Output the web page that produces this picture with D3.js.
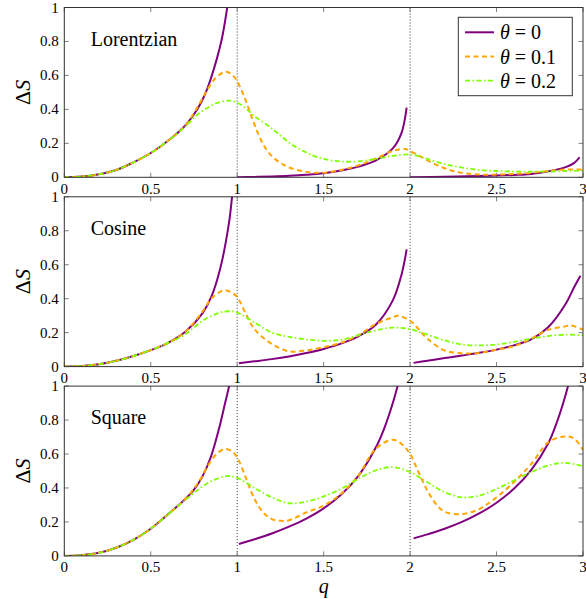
<!DOCTYPE html>
<html lang="en">
<head>
<meta charset="UTF-8">
<script src="https://cdn.jsdelivr.net/npm/d3@7"></script>
<title>Delta S vs q</title>
<style>
  * { margin: 0; padding: 0; }
  body { background: #fff; }
</style>
</head>
<body>
<svg id="chart" width="586" height="599"></svg>
<script>
// ---- data ----
var xTicks = [0, 0.5, 1, 1.5, 2, 2.5, 3];
var yTicks = [0, 0.2, 0.4, 0.6, 0.8, 1];
var panelNames = ['Lorentzian', 'Cosine', 'Square'];
var thetaLabels = ['0', '0.1', '0.2'];
var dividers = [1, 2];

// theta = 0 is split in three branches
var lorentzTheta0 = [
  [[0,0],[0.1,0.004],[0.2,0.018],[0.3,0.043],[0.4,0.088],[0.5,0.143],[0.6,0.215],[0.7,0.305],[0.78,0.42],[0.83,0.53],[0.88,0.69],[0.91,0.81],[0.93,0.92],[0.945,1.02],[0.955,1.1]],
  [[1.0,0],[1.1,0.002],[1.2,0.005],[1.3,0.009],[1.4,0.015],[1.5,0.024],[1.6,0.04],[1.7,0.063],[1.8,0.098],[1.9,0.17],[1.95,0.26],[1.98,0.41]],
  [[2.0,0],[2.2,0.003],[2.4,0.007],[2.5,0.01],[2.6,0.014],[2.7,0.02],[2.8,0.035],[2.9,0.06],[2.95,0.085],[2.98,0.118]]
];
var lorentzTheta01 = [[0,0],[0.1,0.004],[0.2,0.018],[0.3,0.043],[0.4,0.088],[0.5,0.143],[0.6,0.215],[0.7,0.305],[0.78,0.43],[0.83,0.52],[0.88,0.59],[0.935,0.622],[0.97,0.605],[1.0,0.565],[1.05,0.45],[1.1,0.31],[1.15,0.195],[1.2,0.125],[1.25,0.085],[1.3,0.058],[1.4,0.032],[1.5,0.027],[1.6,0.043],[1.7,0.07],[1.8,0.11],[1.9,0.155],[1.97,0.167],[2.0,0.155],[2.1,0.1],[2.2,0.053],[2.3,0.026],[2.4,0.016],[2.5,0.016],[2.6,0.02],[2.7,0.026],[2.8,0.037],[2.9,0.046],[3.0,0.045]];
var lorentzTheta02 = [[0,0],[0.1,0.004],[0.2,0.018],[0.3,0.043],[0.4,0.088],[0.5,0.143],[0.6,0.215],[0.69,0.29],[0.73,0.33],[0.78,0.377],[0.83,0.41],[0.88,0.436],[0.95,0.451],[1.0,0.44],[1.05,0.405],[1.1,0.36],[1.2,0.288],[1.3,0.205],[1.4,0.145],[1.5,0.108],[1.6,0.093],[1.7,0.094],[1.8,0.108],[1.9,0.126],[2.0,0.135],[2.05,0.125],[2.1,0.108],[2.2,0.078],[2.3,0.057],[2.4,0.043],[2.5,0.037],[2.6,0.034],[2.7,0.033],[2.8,0.034],[2.9,0.037],[3.0,0.04]];

var cosineTheta0 = [
  [[0,0],[0.1,0.003],[0.2,0.014],[0.3,0.034],[0.4,0.062],[0.5,0.097],[0.6,0.14],[0.7,0.205],[0.8,0.315],[0.85,0.41],[0.9,0.57],[0.95,0.83],[0.97,1.0],[0.98,1.15]],
  [[1.01,0.02],[1.1,0.031],[1.2,0.044],[1.3,0.06],[1.4,0.08],[1.5,0.104],[1.6,0.135],[1.7,0.178],[1.8,0.245],[1.9,0.39],[1.95,0.54],[1.98,0.69]],
  [[2.02,0.022],[2.1,0.035],[2.2,0.05],[2.3,0.065],[2.4,0.081],[2.5,0.1],[2.6,0.125],[2.7,0.16],[2.8,0.233],[2.9,0.37],[2.95,0.47],[2.985,0.535]]
];
var cosineTheta01 = [[0,0],[0.1,0.003],[0.2,0.014],[0.3,0.034],[0.4,0.062],[0.5,0.097],[0.6,0.14],[0.7,0.205],[0.8,0.325],[0.85,0.4],[0.9,0.44],[0.93,0.45],[0.97,0.435],[1.0,0.41],[1.05,0.31],[1.1,0.22],[1.2,0.134],[1.3,0.09],[1.4,0.095],[1.5,0.115],[1.6,0.14],[1.7,0.184],[1.8,0.25],[1.9,0.29],[1.93,0.3],[2.0,0.27],[2.05,0.22],[2.1,0.164],[2.2,0.095],[2.3,0.079],[2.4,0.08],[2.5,0.1],[2.6,0.12],[2.7,0.164],[2.8,0.217],[2.9,0.237],[2.93,0.243],[3.0,0.217]];
var cosineTheta02 = [[0,0],[0.1,0.003],[0.2,0.014],[0.3,0.034],[0.4,0.062],[0.5,0.097],[0.6,0.14],[0.7,0.19],[0.8,0.27],[0.9,0.318],[0.95,0.326],[1.0,0.318],[1.1,0.26],[1.2,0.2],[1.3,0.175],[1.4,0.16],[1.5,0.152],[1.6,0.158],[1.7,0.185],[1.8,0.213],[1.9,0.23],[2.0,0.22],[2.1,0.188],[2.2,0.154],[2.3,0.13],[2.4,0.125],[2.5,0.13],[2.6,0.146],[2.7,0.164],[2.8,0.18],[2.9,0.188],[3.0,0.184]];

var squareTheta0 = [
  [[0,0],[0.1,0.004],[0.2,0.018],[0.3,0.048],[0.4,0.095],[0.5,0.16],[0.6,0.245],[0.7,0.335],[0.75,0.39],[0.8,0.47],[0.85,0.59],[0.9,0.77],[0.93,0.9],[0.953,1.0],[0.97,1.1]],
  [[1.01,0.07],[1.1,0.098],[1.2,0.132],[1.3,0.172],[1.4,0.22],[1.5,0.28],[1.6,0.36],[1.7,0.47],[1.8,0.635],[1.85,0.75],[1.9,0.9],[1.94,1.05]],
  [[2.02,0.103],[2.1,0.127],[2.2,0.16],[2.3,0.2],[2.4,0.25],[2.5,0.313],[2.6,0.395],[2.7,0.505],[2.8,0.665],[2.85,0.79],[2.9,0.95],[2.93,1.07]]
];
var squareTheta01 = [[0,0],[0.1,0.004],[0.2,0.018],[0.3,0.048],[0.4,0.095],[0.5,0.16],[0.6,0.245],[0.7,0.335],[0.78,0.44],[0.83,0.53],[0.88,0.6],[0.93,0.63],[0.97,0.615],[1.0,0.58],[1.05,0.46],[1.1,0.335],[1.15,0.256],[1.2,0.217],[1.25,0.207],[1.3,0.21],[1.4,0.256],[1.5,0.296],[1.6,0.365],[1.7,0.473],[1.8,0.63],[1.9,0.684],[1.95,0.66],[2.0,0.6],[2.05,0.49],[2.1,0.385],[2.15,0.305],[2.2,0.26],[2.3,0.246],[2.4,0.276],[2.5,0.345],[2.6,0.434],[2.7,0.54],[2.8,0.67],[2.9,0.704],[2.95,0.69],[3.0,0.625]];
var squareTheta02 = [[0,0],[0.1,0.004],[0.2,0.018],[0.3,0.048],[0.4,0.095],[0.5,0.16],[0.6,0.245],[0.69,0.32],[0.78,0.395],[0.85,0.44],[0.94,0.47],[1.0,0.46],[1.1,0.4],[1.2,0.345],[1.3,0.31],[1.4,0.32],[1.5,0.35],[1.6,0.394],[1.7,0.454],[1.8,0.503],[1.9,0.523],[2.0,0.493],[2.1,0.434],[2.2,0.375],[2.3,0.345],[2.4,0.355],[2.5,0.394],[2.6,0.444],[2.7,0.493],[2.8,0.533],[2.9,0.548],[3.0,0.527]];

var panels = [
  { name: panelNames[0], t0: lorentzTheta0, t1: lorentzTheta01, t2: lorentzTheta02 },
  { name: panelNames[1], t0: cosineTheta0, t1: cosineTheta01, t2: cosineTheta02 },
  { name: panelNames[2], t0: squareTheta0, t1: squareTheta01, t2: squareTheta02 }
];

var styles = [
  { color: '#800080', width: 2, dash: null },
  { color: '#ffa500', width: 2, dash: '5,3.5' },
  { color: '#80ff00', width: 1.8, dash: '5,2.5,1.5,2.5' }
];

// ---- layout ----
var serif = "'Liberation Serif', 'DejaVu Serif', 'Times New Roman', serif";
var left = 64.3, right = 583;
var top0 = 7.5, panelH = 169.8, panelStep = 189.3;
var tickLen = 4.5;

var svg = d3.select('#chart').attr('font-family', serif);
var x = d3.scaleLinear().domain([0, 3]).range([left, right]);

var line = d3.line()
  .x(function (d) { return x(d[0]); })
  .curve(d3.curveCatmullRom.alpha(0.5));

panels.forEach(function (p, i) {
  var top = top0 + i * panelStep;
  var bottom = top + panelH;
  var y = d3.scaleLinear().domain([0, 1]).range([bottom, top]);
  line.y(function (d) { return y(d[1]); });

  var g = svg.append('g');

  svg.append('clipPath').attr('id', 'clip' + i)
    .append('rect')
    .attr('x', left).attr('y', top)
    .attr('width', right - left).attr('height', panelH);

  // dotted dividers
  g.selectAll('.div').data(dividers).enter().append('line')
    .attr('x1', function (d) { return x(d); })
    .attr('x2', function (d) { return x(d); })
    .attr('y1', top).attr('y2', bottom)
    .attr('stroke', '#000').attr('stroke-width', 0.8)
    .attr('stroke-dasharray', '1,2');

  // ticks (inside, all four sides)
  var tg = g.append('g').attr('stroke', '#808080').attr('stroke-width', 1);
  xTicks.forEach(function (t) {
    tg.append('line').attr('x1', x(t)).attr('x2', x(t)).attr('y1', bottom).attr('y2', bottom - tickLen);
    tg.append('line').attr('x1', x(t)).attr('x2', x(t)).attr('y1', top).attr('y2', top + tickLen);
  });
  yTicks.forEach(function (t) {
    tg.append('line').attr('x1', left).attr('x2', left + tickLen).attr('y1', y(t)).attr('y2', y(t));
    tg.append('line').attr('x1', right).attr('x2', right - tickLen).attr('y1', y(t)).attr('y2', y(t));
  });

  // curves
  var cg = g.append('g').attr('clip-path', 'url(#clip' + i + ')');
  p.t0.forEach(function (seg) {
    cg.append('path').datum(seg)
      .attr('d', line)
      .attr('fill', 'none')
      .attr('stroke', styles[0].color)
      .attr('stroke-width', styles[0].width);
  });
  [p.t1, p.t2].forEach(function (ser, k) {
    var s = styles[k + 1];
    cg.append('path').datum(ser)
      .attr('d', line)
      .attr('fill', 'none')
      .attr('stroke', s.color)
      .attr('stroke-width', s.width)
      .attr('stroke-dasharray', s.dash);
  });

  // frame
  g.append('rect')
    .attr('x', left).attr('y', top)
    .attr('width', right - left).attr('height', panelH)
    .attr('fill', 'none').attr('stroke', '#333').attr('stroke-width', 1);

  // tick labels
  g.selectAll('.xl').data(xTicks).enter().append('text')
    .attr('x', function (d) { return x(d); })
    .attr('y', bottom + 16.5)
    .attr('text-anchor', 'middle')
    .attr('font-family', serif)
    .attr('font-size', 15)
    .text(function (d) { return d; });
  g.selectAll('.yl').data(yTicks).enter().append('text')
    .attr('x', left - 5.5)
    .attr('y', function (d) { return y(d) + 5; })
    .attr('text-anchor', 'end')
    .attr('font-family', serif)
    .attr('font-size', 15)
    .text(function (d) { return d; });

  // y axis label
  var yl = g.append('text')
    .attr('transform', 'translate(30,' + (top + panelH / 2) + ') rotate(-90)')
    .attr('text-anchor', 'middle')
    .attr('font-family', serif)
    .attr('font-size', 22);
  yl.append('tspan').text('Δ');
  yl.append('tspan').attr('font-style', 'italic').text('S');

  // panel name
  g.append('text')
    .attr('x', 90.7).attr('y', top + 38)
    .attr('font-family', serif)
    .attr('font-size', 20)
    .text(p.name);
});

// x axis label
svg.append('text')
  .attr('x', x(1.5)).attr('y', 593)
  .attr('text-anchor', 'middle')
  .attr('font-family', serif)
  .attr('font-size', 20)
  .attr('font-style', 'italic')
  .text('q');

// legend
var lg = svg.append('g');
lg.append('rect')
  .attr('x', 458.3).attr('y', 17.3)
  .attr('width', 114).attr('height', 78.4)
  .attr('fill', '#fff').attr('stroke', '#333').attr('stroke-width', 1);
thetaLabels.forEach(function (lab, k) {
  var ly = 32.3 + k * 24.2;
  var s = styles[k];
  lg.append('line')
    .attr('x1', 465).attr('x2', 494)
    .attr('y1', ly).attr('y2', ly)
    .attr('stroke', s.color).attr('stroke-width', s.width)
    .attr('stroke-dasharray', s.dash);
  var t = lg.append('text')
    .attr('x', 500).attr('y', ly + 7)
    .attr('font-family', serif)
    .attr('font-size', 20);
  t.append('tspan').attr('font-style', 'italic').text('θ');
  t.append('tspan').text(' = ' + lab);
});
</script>
</body>
</html>
